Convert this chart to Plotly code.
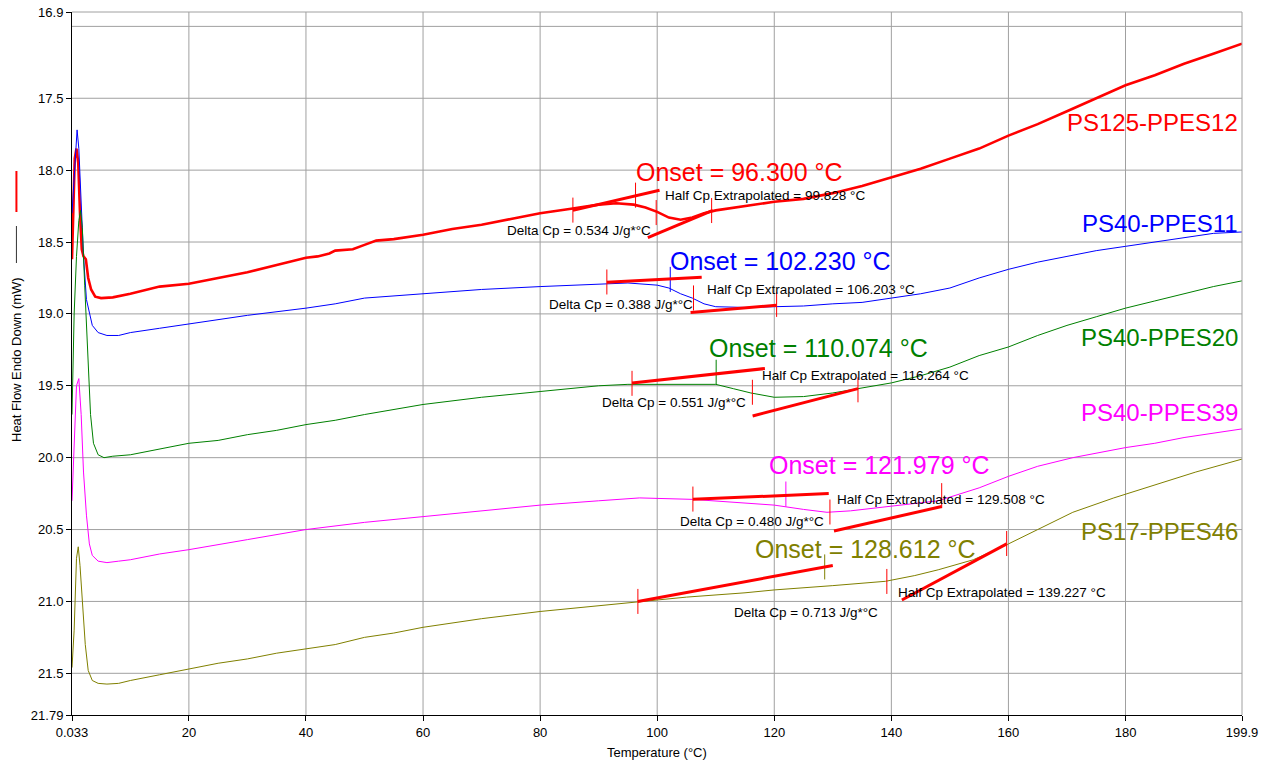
import plotly.graph_objects as go

# ---------------- data ----------------
T_RED = [0.033, 0.3, 0.5, 0.8, 1.1, 1.4, 1.7, 2.0, 2.4, 2.8, 3.3, 4.0, 5.0, 7, 10, 15, 20, 25, 30, 35, 40, 42, 44, 45, 48, 50, 52, 55, 60,
         65, 70, 75, 80, 85, 90, 93, 96, 98, 100, 102, 104, 106, 108, 110, 115, 120, 125, 130, 135, 140, 145, 150, 155, 160,
         165, 170, 175, 180, 185, 190, 195, 199.9]
HF_RED = [18.62, 18.15, 17.92, 17.85, 17.95, 18.3, 18.55, 18.6, 18.62, 18.75, 18.83, 18.88, 18.89, 18.885, 18.86, 18.81, 18.79,
          18.75, 18.71, 18.66, 18.61, 18.60, 18.58, 18.56, 18.55, 18.52, 18.49, 18.48, 18.45, 18.41, 18.38, 18.34, 18.30, 18.27,
          18.24, 18.23, 18.24, 18.26, 18.29, 18.33, 18.345, 18.33, 18.30, 18.28, 18.25, 18.22, 18.20, 18.16, 18.11, 18.05, 17.99,
          17.92, 17.85, 17.76, 17.68, 17.59, 17.50, 17.41, 17.34, 17.26, 17.19, 17.12]

T_BLUE = [0.033, 0.5, 0.9, 1.2, 1.5, 2.0, 2.5, 3.0, 3.5, 4.5, 6, 8, 10, 15, 20, 30, 40, 45, 50, 60, 70, 80, 90, 95, 100, 102,
          104, 106, 108, 110, 115, 120, 125, 130, 135, 140, 145, 150, 155, 160, 165, 170, 175, 180, 185, 190, 195, 199.9]
HF_BLUE = [18.3, 17.95, 17.72, 17.85, 18.1, 18.6, 18.9, 19.0, 19.08, 19.13, 19.15, 19.15, 19.13, 19.10, 19.07, 19.01, 18.96,
           18.93, 18.89, 18.86, 18.83, 18.81, 18.79, 18.785, 18.80, 18.82, 18.86, 18.89, 18.93, 18.95, 18.955, 18.95, 18.945,
           18.93, 18.92, 18.89, 18.86, 18.82, 18.75, 18.69, 18.64, 18.60, 18.56, 18.53, 18.50, 18.47, 18.44, 18.43]

T_GREEN = [0.033, 0.4, 0.8, 1.2, 1.5, 1.8, 2.2, 2.7, 3.2, 3.7, 4.5, 5.5, 7, 10, 15, 20, 25, 30, 35, 40, 45, 50, 60, 70, 80, 90,
           95, 100, 105, 110, 113, 116, 120, 125, 130, 134, 140, 145, 150, 155, 160, 165, 170, 175, 180, 185, 190, 195, 199.9]
HF_GREEN = [19.7, 19.0, 18.6, 18.35, 18.28, 18.4, 18.8, 19.3, 19.7, 19.9, 19.98, 20.0, 19.99, 19.98, 19.94, 19.90, 19.88,
            19.84, 19.81, 19.77, 19.74, 19.70, 19.63, 19.58, 19.54, 19.50, 19.49, 19.49, 19.49, 19.49, 19.52, 19.55, 19.58,
            19.575, 19.55, 19.52, 19.48, 19.43, 19.37, 19.29, 19.23, 19.15, 19.08, 19.02, 18.96, 18.91, 18.86, 18.81, 18.77]

T_MAG = [0.033, 0.4, 0.8, 1.2, 1.6, 2.0, 2.5, 3.0, 3.5, 4.5, 6, 8, 10, 15, 20, 30, 40, 50, 60, 70, 80, 90, 97, 106, 113, 120,
         125, 129, 133, 137, 142, 148, 155, 160, 165, 171, 180, 185, 190, 195, 199.9]
HF_MAG = [20.3, 19.9, 19.5, 19.45, 19.7, 20.1, 20.4, 20.6, 20.68, 20.72, 20.73, 20.72, 20.71, 20.67, 20.64, 20.57, 20.50,
          20.45, 20.41, 20.37, 20.33, 20.30, 20.28, 20.29, 20.31, 20.33, 20.36, 20.38, 20.37, 20.35, 20.33, 20.30, 20.21,
          20.13, 20.06, 20.0, 19.93, 19.90, 19.86, 19.83, 19.80]

T_OLIVE = [0.033, 0.4, 0.8, 1.1, 1.4, 1.8, 2.3, 2.8, 3.5, 4.5, 6, 8, 10, 15, 20, 25, 30, 35, 40, 45, 50, 55, 60, 70, 80, 90,
           97, 105, 115, 120, 130, 139, 144, 148, 154, 160, 165, 171, 178, 185, 192, 199.9]
HF_OLIVE = [21.46, 21.2, 20.7, 20.62, 20.75, 21.0, 21.3, 21.48, 21.55, 21.57, 21.575, 21.57, 21.55, 21.51, 21.47, 21.43,
            21.40, 21.36, 21.33, 21.30, 21.25, 21.22, 21.18, 21.12, 21.07, 21.03, 21.0, 20.97, 20.94, 20.92, 20.89, 20.86,
            20.82, 20.78, 20.71, 20.60, 20.50, 20.38, 20.28, 20.19, 20.10, 20.01]

SERIES_NAMES = ["PS125-PPES12", "PS40-PPES11", "PS40-PPES20", "PS40-PPES39", "PS17-PPES46"]
SERIES_COLORS = ["#FF0000", "#0000FF", "#008000", "#FF00FF", "#808000"]
SERIES_T = [T_RED, T_BLUE, T_GREEN, T_MAG, T_OLIVE]
SERIES_HF = [HF_RED, HF_BLUE, HF_GREEN, HF_MAG, HF_OLIVE]
SERIES_WIDTH = [2.6, 1, 1, 1, 1]
LABEL_Y = [17.67, 18.368, 19.167, 19.687, 20.514]

# glass transition analysis results
ONSET = [96.300, 102.230, 110.074, 121.979, 128.612]
HALF_CP = [99.828, 106.203, 116.264, 129.508, 139.227]
DELTA_CP = [0.534, 0.388, 0.551, 0.480, 0.713]

# tangent lines (x0, y0, x1, y1)
TAN1 = [(85.6, 18.28, 100.4, 18.14), (91.4, 18.78, 107.6, 18.745), (95.7, 19.48, 118.4, 19.38),
        (106.1, 20.29, 129.3, 20.25), (96.7, 21.0, 130.0, 20.75)]
TAN2 = [(98.4, 18.47, 109.5, 18.28), (105.7, 18.99, 120.4, 18.94), (116.3, 19.71, 134.3, 19.52),
        (130.2, 20.51, 148.6, 20.34), (141.8, 20.99, 159.7, 20.60)]
# analysis tick marks: start, onset, half-cp, end
TICK_START_X = [85.6, 91.4, 95.7, 106.1, 96.7]
TICK_END_X = [109.3, 120.4, 134.3, 148.6, 159.7]
TICK_Y = [[18.278, 18.174, 18.295, 18.281],
          [18.778, 18.760, 18.889, 18.934],
          [19.483, 19.406, 19.545, 19.528],
          [20.288, 20.253, 20.378, 20.264],
          [21.000, 20.760, 20.861, 20.597]]
# label positions
ONSET_LABEL_XY = [(114.1, 18.014), (121.1, 18.633), (127.6, 19.238), (138.0, 20.049), (135.6, 20.632)]
HALF_LABEL_XY = [(101.0, 18.174), (108.1, 18.833), (117.5, 19.431), (130.3, 20.29), (140.8, 20.94)]
DELTA_LABEL_XY = [(74.0, 18.417), (81.1, 18.937), (90.2, 19.618), (103.5, 20.443), (112.7, 21.08)]

X_TICKS = [0.033, 20, 40, 60, 80, 100, 120, 140, 160, 180, 199.9]
X_TICK_TEXT = ["0.033", "20", "40", "60", "80", "100", "120", "140", "160", "180", "199.9"]
Y_TICKS = [16.9, 17.5, 18.0, 18.5, 19.0, 19.5, 20.0, 20.5, 21.0, 21.5, 21.79]
Y_TICK_TEXT = ["16.9", "17.5", "18.0", "18.5", "19.0", "19.5", "20.0", "20.5", "21.0", "21.5", "21.79"]
Y_GRID = [17.0, 17.5, 18.0, 18.5, 19.0, 19.5, 20.0, 20.5, 21.0, 21.5]
X_GRID = [20, 40, 60, 80, 100, 120, 140, 160, 180]
X_RANGE = [0.033, 199.9]
Y_RANGE = [21.79, 16.9]

FONT = "Arial, Liberation Sans, sans-serif"
TICK_HALF = 0.087

fig = go.Figure()

# gridlines
for g in Y_GRID:
    fig.add_shape(type="line", xref="x", yref="y", x0=X_RANGE[0], x1=X_RANGE[1], y0=g, y1=g,
                  line=dict(color="#a0a0a0", width=1), layer="below")
for g in X_GRID:
    fig.add_shape(type="line", xref="x", yref="y", x0=g, x1=g, y0=Y_RANGE[0], y1=Y_RANGE[1],
                  line=dict(color="#a0a0a0", width=1), layer="below")
# top and right border
fig.add_shape(type="line", xref="paper", yref="paper", x0=0, x1=1, y0=1, y1=1, line=dict(color="#a0a0a0", width=1))
fig.add_shape(type="line", xref="paper", yref="paper", x0=1, x1=1, y0=0, y1=1, line=dict(color="#a0a0a0", width=1))

# curves
for t, hf, c, w, n in zip(SERIES_T, SERIES_HF, SERIES_COLORS, SERIES_WIDTH, SERIES_NAMES):
    fig.add_trace(go.Scatter(x=t, y=hf, mode="lines", line=dict(color=c, width=w), name=n,
                             showlegend=False, hoverinfo="skip"))

# analysis marks
for i in range(5):
    col = SERIES_COLORS[i]
    tx = [TICK_START_X[i], ONSET[i], HALF_CP[i], TICK_END_X[i]]
    ty = TICK_Y[i]
    xs, ys = [], []
    for k in (0, 2, 3):
        xs += [tx[k], tx[k], None]
        ys += [ty[k] - TICK_HALF, ty[k] + TICK_HALF, None]
    fig.add_trace(go.Scatter(x=xs, y=ys, mode="lines", line=dict(color="#FF0000", width=1),
                             showlegend=False, hoverinfo="skip"))
    fig.add_trace(go.Scatter(x=[tx[1], tx[1]], y=[ty[1] - TICK_HALF, ty[1] + TICK_HALF], mode="lines",
                             line=dict(color=col, width=1), showlegend=False, hoverinfo="skip"))
    a = TAN1[i]
    b = TAN2[i]
    fig.add_trace(go.Scatter(x=[a[0], a[2], None, b[0], b[2]], y=[a[1], a[3], None, b[1], b[3]], mode="lines",
                             line=dict(color="#FF0000", width=3), showlegend=False, hoverinfo="skip"))
    ox, oy = ONSET_LABEL_XY[i]
    fig.add_annotation(x=ox, y=oy, text=f"Onset = {ONSET[i]:.3f} °C", showarrow=False, xanchor="center",
                       yanchor="middle", font=dict(family=FONT, size=25, color=col))
    hx, hy = HALF_LABEL_XY[i]
    fig.add_annotation(x=hx, y=hy, text=f"Half Cp Extrapolated = {HALF_CP[i]:.3f} °C", showarrow=False,
                       xanchor="left", yanchor="middle", font=dict(family=FONT, size=13.5, color="#000000"))
    dx, dy = DELTA_LABEL_XY[i]
    fig.add_annotation(x=dx, y=dy, text=f"Delta Cp = {DELTA_CP[i]:.3f} J/g*°C", showarrow=False,
                       xanchor="left", yanchor="middle", font=dict(family=FONT, size=13.5, color="#000000"))
    fig.add_annotation(x=199.6, y=LABEL_Y[i], text=SERIES_NAMES[i], showarrow=False, xanchor="right",
                       yanchor="middle", font=dict(family=FONT, size=24, color=col))

# axis titles
fig.add_annotation(xref="paper", yref="paper", x=0.5, y=0, yshift=-37, text="Temperature (°C)", showarrow=False,
                   xanchor="center", yanchor="middle", font=dict(family=FONT, size=13, color="#000000"))
fig.add_annotation(xref="paper", yref="paper", x=-0.047, y=(715 - 360) / 703, text="Heat Flow Endo Down (mW)",
                   textangle=-90, showarrow=False, xanchor="center", yanchor="middle",
                   font=dict(family=FONT, size=13, color="#000000"))
fig.add_shape(type="line", xref="paper", yref="paper", x0=-0.0475, x1=-0.0475, y0=(715 - 171) / 703,
              y1=(715 - 212) / 703, line=dict(color="#FF0000", width=2))
fig.add_shape(type="line", xref="paper", yref="paper", x0=-0.0475, x1=-0.0475, y0=(715 - 226) / 703,
              y1=(715 - 263) / 703, line=dict(color="#333333", width=1))

fig.update_layout(
    width=1262, height=763,
    margin=dict(l=72, r=20, t=12, b=48),
    paper_bgcolor="white", plot_bgcolor="white",
    showlegend=False,
    xaxis=dict(range=X_RANGE, tickvals=X_TICKS, ticktext=X_TICK_TEXT, showgrid=False, zeroline=False,
               showline=True, linecolor="#000000", linewidth=1, ticks="outside", ticklen=5, tickcolor="#000000",
               automargin=False, tickfont=dict(family=FONT, size=13, color="#000000")),
    yaxis=dict(range=Y_RANGE, tickvals=Y_TICKS, ticktext=Y_TICK_TEXT, showgrid=False, zeroline=False,
               showline=True, linecolor="#000000", linewidth=1, ticks="outside", ticklen=5, tickcolor="#000000",
               automargin=False, tickfont=dict(family=FONT, size=13, color="#000000")),
)

fig.write_html("out.html")
